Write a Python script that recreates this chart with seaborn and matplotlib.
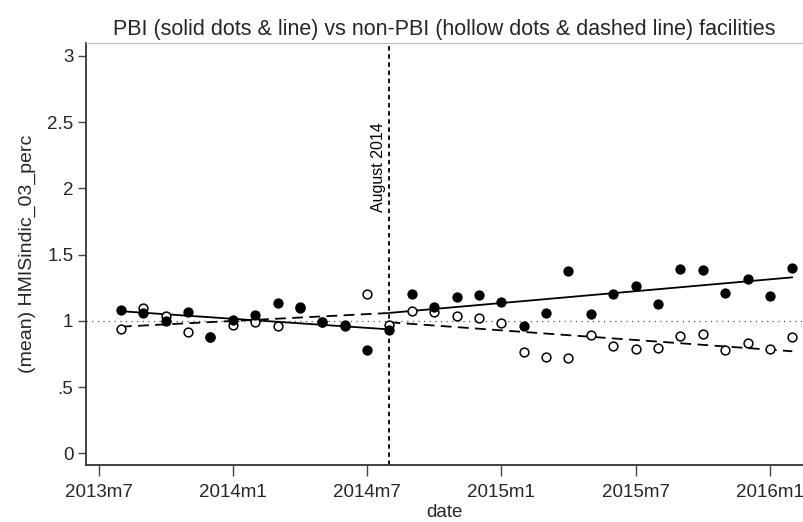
import numpy as np
import pandas as pd
import matplotlib
matplotlib.use("Agg")
import matplotlib.pyplot as plt
import seaborn as sns

# month index: 0 = 2013m7
months = list(range(1, 32))  # 2013m8 .. 2016m2
pbi = [1.085, 1.06, 1.00, 1.065, 0.876, 1.01, 1.047, 1.135, 1.105, 0.992, 0.965, 0.778,
       0.929, 1.20, 1.105, 1.178, 1.198, 1.14, 0.959, 1.06, 1.379, 1.055, 1.203, 1.261,
       1.13, 1.392, 1.381, 1.211, 1.316, 1.191, 1.399]
nonpbi = [0.94, 1.098, 1.04, 0.914, 0.88, 0.967, 0.992, 0.96, 1.10, 0.99, 0.96, 1.20,
          0.972, 1.072, 1.065, 1.035, 1.022, 0.985, 0.763, 0.729, 0.716, 0.892, 0.809, 0.789,
          0.794, 0.884, 0.904, 0.778, 0.834, 0.791, 0.879]
break_month = 13  # 2014m8
tick_months = [0, 6, 12, 18, 24, 30]
tick_labels = ["2013m7", "2014m1", "2014m7", "2015m1", "2015m7", "2016m1"]
ytick_vals = [0, 0.5, 1, 1.5, 2, 2.5, 3]
ytick_labels = ["0", ".5", "1", "1.5", "2", "2.5", "3"]

sns.set_theme(style="white")
plt.rcParams['font.family'] = ['Liberation Sans', 'DejaVu Sans']

df = pd.DataFrame({"m": months, "pbi": pbi, "nonpbi": nonpbi})
pre = df[df.m < break_month]
post = df[df.m >= break_month]

def fit(sub, col, xs):
    b = np.polyfit(sub.m, sub[col], 1)
    return pd.DataFrame({"m": xs, "y": np.polyval(b, xs)})

fig = plt.figure(figsize=(8.04, 5.22), dpi=100)
ax = fig.add_axes([86/804, 1-465/522, (803-86)/804, (465-43)/522])

# reference line at 1
ax.axhline(1, color="#555555", lw=0.9, linestyle=(0, (1, 3.5)), zorder=1)
# vertical line at August 2014
ax.axvline(break_month, color="black", lw=1.3, linestyle=(0, (2.5, 2)), zorder=1)
ax.text(break_month - 0.5, 1.82, "August 2014", rotation=90, ha="center", va="bottom",
        fontsize=11.5, color="black")

# fitted lines
pre_x = [1, break_month]
post_x = [break_month, 31]
for col, ls in [("pbi", "-"), ("nonpbi", (0, (6, 3.5)))]:
    f1 = fit(pre, col, pre_x)
    f2 = fit(post, col, post_x)
    for f in (f1, f2):
        sns.lineplot(data=f, x="m", y="y", ax=ax, color="black", lw=1.3,
                     linestyle=ls, zorder=2)

# hollow dots (non-PBI) then solid dots (PBI)
ax.scatter(df.m, df.nonpbi, s=40, facecolors="white", edgecolors="black",
           linewidths=1.1, zorder=3)
sns.scatterplot(data=df, x="m", y="pbi", ax=ax, s=55, color="black",
                edgecolor="black", linewidth=0, zorder=4)

ax.set_xlim(-0.56, 31.48)
ax.set_ylim(-0.088, 3.097)
ax.set_xticks(tick_months)
ax.set_xticklabels(tick_labels, fontsize=13.5)
ax.set_yticks(ytick_vals)
ax.set_yticklabels(ytick_labels, fontsize=13.5)
ax.tick_params(axis="y", direction="out", length=6, width=1, color="#444444",
               left=True, pad=3)
ax.tick_params(axis="x", direction="out", length=8, width=1, color="#444444",
               bottom=True, pad=6)
ax.set_xlabel("date", fontsize=13.5, labelpad=1.5)
ax.set_ylabel("(mean) HMISindic_03_perc", fontsize=14, labelpad=8)
ax.set_title("PBI (solid dots & line) vs non-PBI (hollow dots & dashed line) facilities",
             fontsize=15.5, pad=6)
for side in ["left", "bottom"]:
    ax.spines[side].set_color("#333333")
    ax.spines[side].set_linewidth(1.3)
for side in ["top", "right"]:
    ax.spines[side].set_color("#bbbbbb")
    ax.spines[side].set_linewidth(0.8)
ax.grid(False)

fig.savefig("out.png", dpi=100)
